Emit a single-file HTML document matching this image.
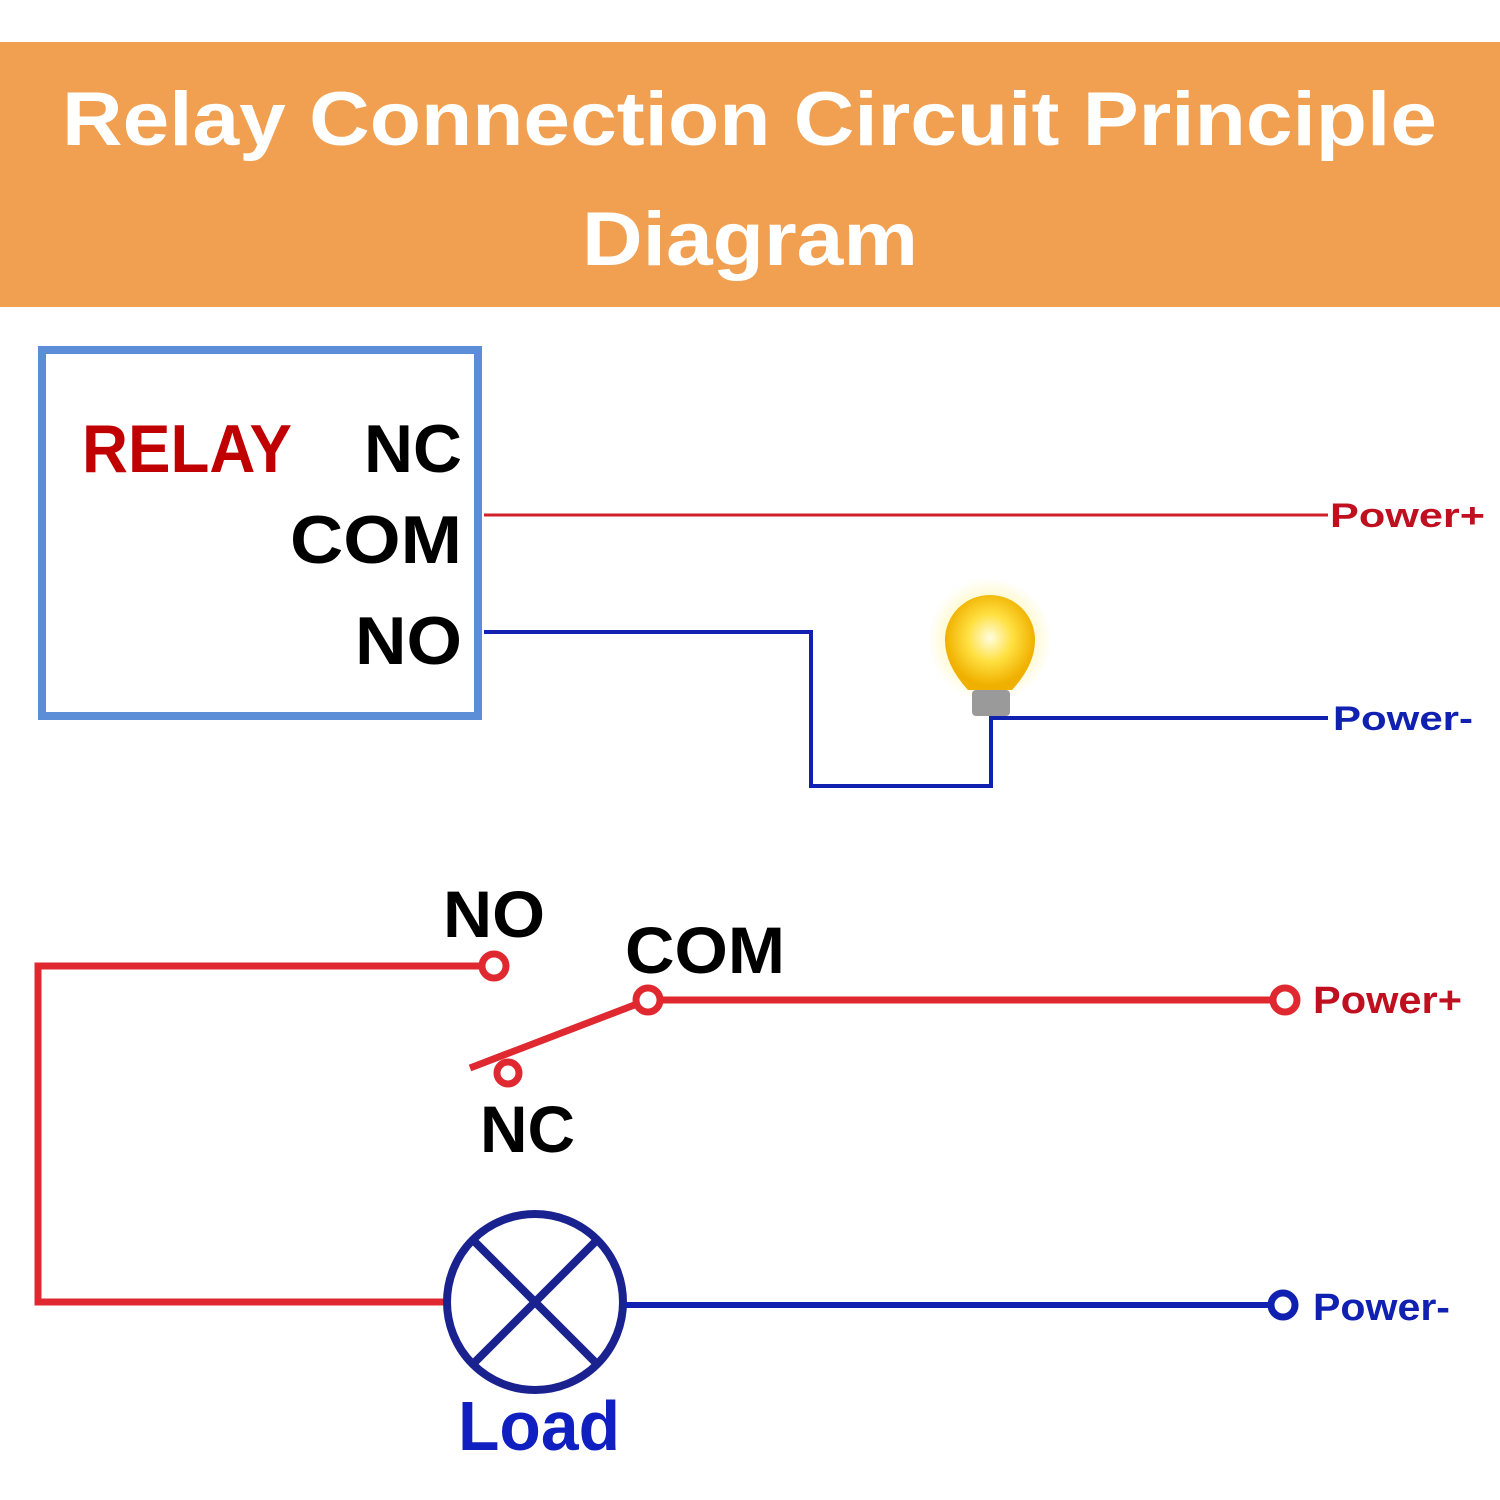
<!DOCTYPE html>
<html><head><meta charset="utf-8"><style>
html,body{margin:0;padding:0;background:#fff;width:1500px;height:1500px;overflow:hidden}
</style></head><body>
<svg width="1500" height="1500" viewBox="0 0 1500 1500" xmlns="http://www.w3.org/2000/svg" font-family="Liberation Sans, sans-serif">
<rect x="0" y="42" width="1500" height="265" fill="#F0A050"/>
<text x="62" y="145" font-size="76" font-weight="bold" fill="#fff" textLength="1375" lengthAdjust="spacingAndGlyphs">Relay Connection Circuit Principle</text>
<text x="582" y="265" font-size="76" font-weight="bold" fill="#fff" textLength="336" lengthAdjust="spacingAndGlyphs">Diagram</text>

<rect x="42" y="350" width="436" height="366" fill="none" stroke="#5B8ED6" stroke-width="8"/>
<text x="82" y="472" font-size="68" font-weight="bold" fill="#C00000" textLength="210" lengthAdjust="spacingAndGlyphs">RELAY</text>
<text x="364" y="472" font-size="68" font-weight="bold" fill="#000" textLength="98" lengthAdjust="spacingAndGlyphs">NC</text>
<text x="290" y="563" font-size="68" font-weight="bold" fill="#000" textLength="172" lengthAdjust="spacingAndGlyphs">COM</text>
<text x="355" y="664" font-size="68" font-weight="bold" fill="#000" textLength="107" lengthAdjust="spacingAndGlyphs">NO</text>

<line x1="484" y1="515" x2="1328" y2="515" stroke="#D0202A" stroke-width="3"/>
<text x="1330" y="527" font-size="34" font-weight="bold" fill="#C01020" textLength="155" lengthAdjust="spacingAndGlyphs">Power+</text>
<polyline points="484,632 811,632 811,786 991,786 991,718 1328,718" fill="none" stroke="#1020B0" stroke-width="4"/>
<text x="1333" y="730" font-size="34" font-weight="bold" fill="#1020B0" textLength="140" lengthAdjust="spacingAndGlyphs">Power-</text>

<defs><radialGradient id="g" cx="0.5" cy="0.45" r="0.5">
<stop offset="0" stop-color="#FFFDE0"/><stop offset="0.5" stop-color="#FFE040"/><stop offset="1" stop-color="#F0B000"/></radialGradient>
<radialGradient id="h"><stop offset="0.5" stop-color="#FFF080" stop-opacity="0.6"/><stop offset="1" stop-color="#FFF080" stop-opacity="0"/></radialGradient></defs>
<circle cx="990" cy="640" r="62" fill="url(#h)"/>
<path d="M968,690 Q945,665 945,640 A45,45 0 1 1 1035,640 Q1035,665 1012,690 Z" fill="url(#g)"/>
<rect x="972" y="690" width="38" height="26" rx="4" fill="#9a9a9a"/>

<g stroke="#E02830" stroke-width="7" fill="none">
<polyline points="482,966 38,966 38,1302 445,1302"/>
<circle cx="494" cy="966" r="12" fill="#fff"/>
<line x1="660" y1="1000" x2="1272" y2="1000"/>
<circle cx="648" cy="1000" r="12" fill="#fff"/>
<circle cx="1285" cy="1000" r="12" fill="#fff"/>
<line x1="637" y1="1004" x2="470" y2="1068"/>
<circle cx="508" cy="1073" r="11" fill="#fff"/>
</g>
<text x="443" y="937" font-size="66" font-weight="bold" fill="#000" textLength="102" lengthAdjust="spacingAndGlyphs">NO</text>
<text x="625" y="973" font-size="66" font-weight="bold" fill="#000" textLength="160" lengthAdjust="spacingAndGlyphs">COM</text>
<text x="480" y="1152" font-size="66" font-weight="bold" fill="#000" textLength="95" lengthAdjust="spacingAndGlyphs">NC</text>
<text x="1313" y="1013" font-size="38" font-weight="bold" fill="#C01020" textLength="149" lengthAdjust="spacingAndGlyphs">Power+</text>

<g stroke="#1A2290" stroke-width="8" fill="none">
<circle cx="535" cy="1302" r="88"/>
<line x1="473" y1="1240" x2="597" y2="1364"/>
<line x1="597" y1="1240" x2="473" y2="1364"/>
</g>
<line x1="625" y1="1305" x2="1270" y2="1305" stroke="#1020B0" stroke-width="6"/>
<circle cx="1283" cy="1305" r="12" fill="#fff" stroke="#1020B0" stroke-width="7"/>
<text x="1313" y="1320" font-size="38" font-weight="bold" fill="#1020B0" textLength="137" lengthAdjust="spacingAndGlyphs">Power-</text>
<text x="458" y="1450" font-size="70" font-weight="bold" fill="#1020C0" textLength="162" lengthAdjust="spacingAndGlyphs">Load</text>
</svg>
</body></html>
